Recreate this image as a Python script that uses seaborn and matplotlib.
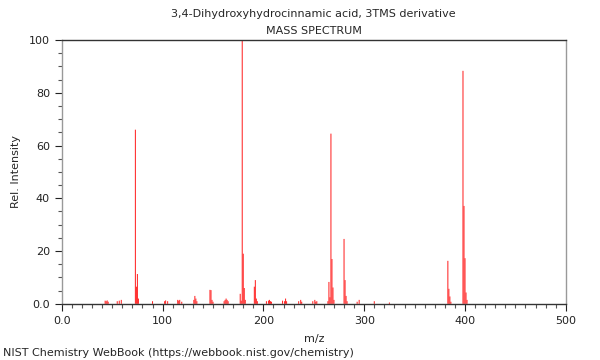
import matplotlib.pyplot as plt
import matplotlib.ticker as mticker
import numpy as np
import pandas as pd
import seaborn as sns

# peak list (m/z, relative intensity)
mz = [43, 44, 45, 46, 55, 57, 59, 73, 74, 75, 76, 90,
      102, 103, 105, 115, 116, 117, 119, 131, 132, 133, 134,
      147, 148, 149, 150, 161, 162, 163, 164, 165, 177, 178, 179, 180, 181, 182,
      191, 192, 193, 194, 203, 205, 206, 207, 208, 219, 221, 222, 223,
      235, 237, 238, 249, 251, 252, 253, 264, 265, 266, 267, 268, 269, 270,
      280, 281, 282, 283, 293, 295, 310, 325,
      383, 384, 385, 386, 398, 399, 400, 401, 402]
intensity = [1.2, 1.0, 1.3, 0.8, 1.0, 1.2, 1.5, 66.0, 6.5, 11.3, 2.0, 1.0,
             1.0, 1.3, 1.0, 1.5, 1.2, 1.5, 0.8, 1.5, 3.0, 2.0, 1.0,
             5.3, 5.2, 1.5, 0.8, 1.0, 1.5, 2.0, 1.5, 1.0, 3.8, 1.2, 100.0, 19.0, 6.0, 1.5,
             6.5, 9.0, 2.0, 1.0, 1.0, 1.2, 1.5, 1.0, 0.8, 1.2, 1.0, 2.0, 1.0,
             1.0, 1.5, 0.8, 1.0, 1.5, 0.8, 1.0, 1.0, 8.3, 2.5, 64.5, 17.0, 6.2, 1.5,
             24.6, 9.0, 3.0, 1.0, 0.8, 1.5, 1.0, 0.5,
             16.3, 5.7, 2.8, 0.8, 88.3, 37.1, 17.3, 4.3, 1.5]

xticks = [0, 100, 200, 300, 400, 500]
xlabels = ['0.0', '100', '200', '300', '400', '500']
yticks = [0, 20, 40, 60, 80, 100]
ylabels = ['0.0', '20', '40', '60', '80', '100']

spec = pd.DataFrame({'mz': mz, 'intensity': intensity})

sns.set_style('ticks')
plt.rcParams['font.family'] = ['DejaVu Sans']

fig = plt.figure(figsize=(6, 3.6), dpi=100, facecolor='white')
ax = fig.add_axes([0.103, 0.156, 0.84, 0.733])

# bars are about one pixel wide, so switch off snapping or some vanish
sns.histplot(data=spec, x='mz', weights='intensity', discrete=True, shrink=1.0,
             color='#ff2020', alpha=1.0, linewidth=0, snap=False, ax=ax)

ax.set_xlim(0, 500)
ax.set_ylim(0, 100)
ax.set_xticks(xticks, xlabels)
ax.set_yticks(yticks, ylabels)
ax.xaxis.set_minor_locator(mticker.MultipleLocator(10))
ax.yaxis.set_minor_locator(mticker.MultipleLocator(5))
ax.tick_params(which='major', direction='out', length=5, width=0.8, labelsize=8, colors='#222222')
ax.tick_params(which='minor', direction='out', length=3, width=0.8, colors='#555555')

for side in ['top', 'bottom']:
    ax.spines[side].set_color('#333333')
    ax.spines[side].set_linewidth(1.0)
for side in ['left', 'right']:
    ax.spines[side].set_color('#999999')
    ax.spines[side].set_linewidth(1.0)

ax.set_xlabel('m/z', fontsize=8, labelpad=6)
ax.set_ylabel('Rel. Intensity', fontsize=8, labelpad=6)

fig.text(0.523, 0.962, '3,4-Dihydroxyhydrocinnamic acid, 3TMS derivative',
         ha='center', va='center', fontsize=8)
fig.text(0.523, 0.915, 'MASS SPECTRUM', ha='center', va='center', fontsize=8)
fig.text(0.005, 0.02, 'NIST Chemistry WebBook (https://webbook.nist.gov/chemistry)',
         ha='left', va='center', fontsize=8)

fig.savefig('out.png', dpi=100)
